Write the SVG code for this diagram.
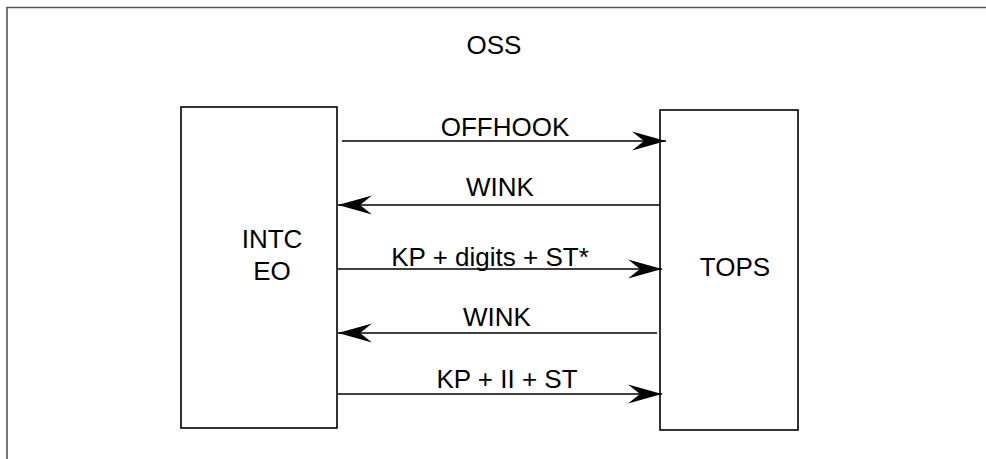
<svg xmlns="http://www.w3.org/2000/svg" width="986" height="459" viewBox="0 0 986 459">
  <style>
    text { font-family: "Liberation Sans", Arial, sans-serif; font-size: 26px; fill: #000; text-anchor: middle; }
    .box { fill: #fff; stroke: #000; stroke-width: 1.6; }
    .frame { fill: none; stroke: #555; stroke-width: 1.6; }
    .msg { stroke: #000; stroke-width: 1.6; fill: none; marker-end: url(#arrow); }
  </style>
  <defs>
    <marker id="arrow" markerUnits="userSpaceOnUse" viewBox="-36 -10 37 20" refX="0" refY="0" markerWidth="37" markerHeight="20" orient="auto">
      <path d="M0,0 L-34,-9.5 L-22,0 L-34,9.5 Z" fill="#000"/>
    </marker>
  </defs>
  <g id="frame">
    <path class="frame" d="M7,470 L7,7.5 L1000,7.5"/>
    <text x="494" y="54">OSS</text>
  </g>
  <g id="intc">
    <rect class="box" x="181" y="107" width="156" height="321"/>
    <text x="272" y="248">INTC</text>
    <text x="272" y="280">EO</text>
  </g>
  <g id="tops">
    <rect class="box" x="660" y="110" width="138" height="320"/>
    <text x="735" y="276">TOPS</text>
  </g>
  <g id="connectors">
    <line class="msg" x1="342" y1="141" x2="666" y2="141"/>
    <line class="msg" x1="660" y1="205" x2="338" y2="205"/>
    <line class="msg" x1="338" y1="269" x2="662" y2="269"/>
    <line class="msg" x1="657" y1="333" x2="338" y2="333"/>
    <line class="msg" x1="338" y1="394" x2="662" y2="394"/>
  </g>
  <g id="labels">
    <text x="505" y="136">OFFHOOK</text>
    <text x="500" y="196">WINK</text>
    <text x="490" y="266">KP + digits + ST*</text>
    <text x="497" y="326">WINK</text>
    <text x="507" y="388">KP + II + ST</text>
  </g>
</svg>
